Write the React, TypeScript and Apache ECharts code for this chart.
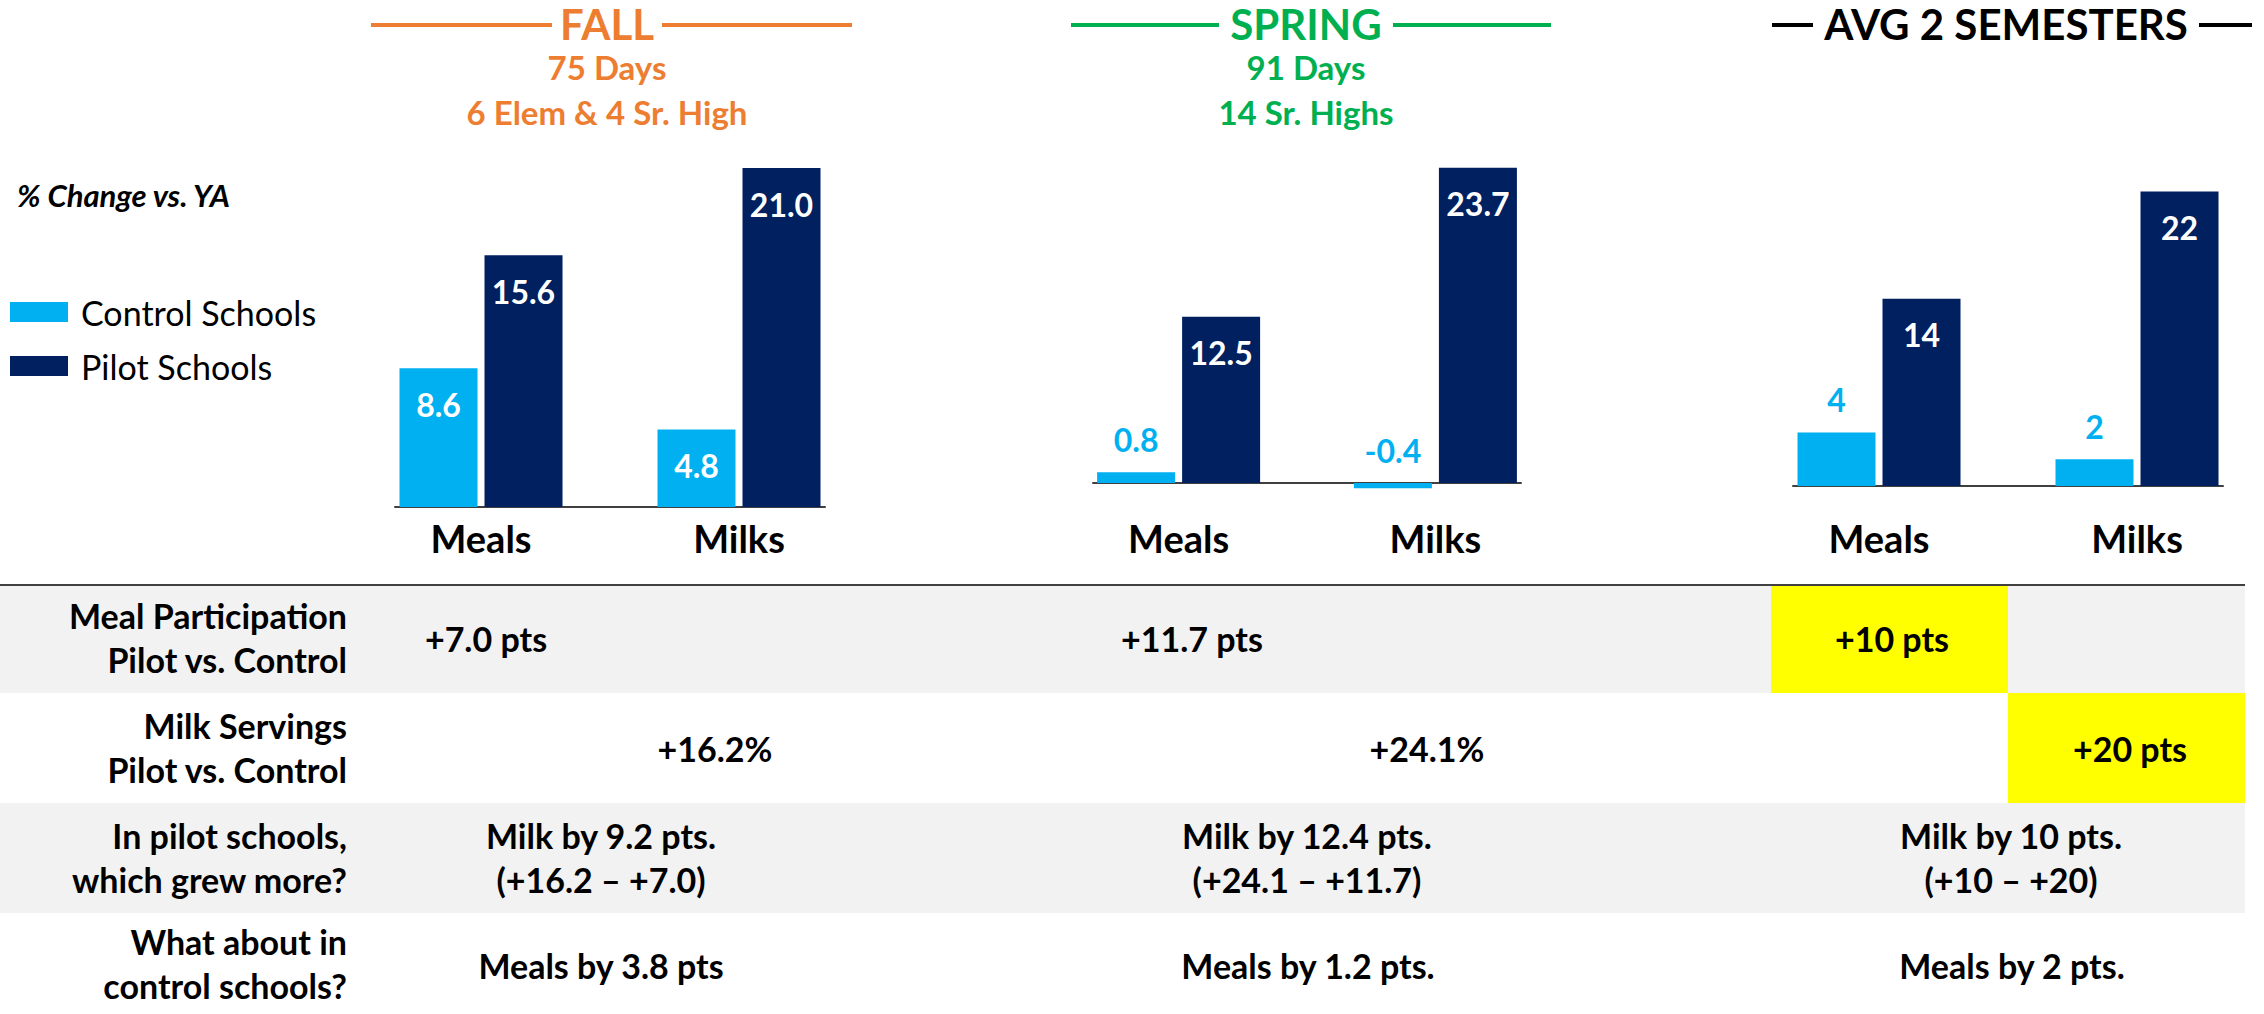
import React, { useEffect, useRef } from 'react';
import * as echarts from 'echarts';

const FONT = 'Lato';

// ---- data ----
const categories = ['Meals', 'Milks'];
const seriesNames = ['Control Schools', 'Pilot Schools'];
const fallControl = [8.6, 4.8];
const fallPilot = [15.6, 21.0];
const springControl = [0.8, -0.4];
const springPilot = [12.5, 23.7];
const avgControl = [4, 2];
const avgPilot = [14, 22];

const headerTitles = ['FALL', 'SPRING', 'AVG 2 SEMESTERS'];
const headerSub1 = ['75 Days', '91 Days', ''];
const headerSub2 = ['6 Elem & 4 Sr. High', '14 Sr. Highs', ''];

const rowLabels = [
  'Meal Participation\nPilot vs. Control',
  'Milk Servings\nPilot vs. Control',
  'In pilot schools,\nwhich grew more?',
  'What about in\ncontrol schools?',
];
const fallTable = ['+7.0 pts', '+16.2%', 'Milk by 9.2 pts.\n(+16.2 – +7.0)', 'Meals by 3.8 pts'];
const springTable = ['+11.7 pts', '+24.1%', 'Milk by 12.4 pts.\n(+24.1 – +11.7)', 'Meals by 1.2 pts.'];
const avgTable = ['+10 pts', '+20 pts', 'Milk by 10 pts.\n(+10 – +20)', 'Meals by 2 pts.'];

// ---- layout ----
const CONTROL_COLOR = '#00B0F0';
const PILOT_COLOR = '#002060';

const panels = [
  {
    control: fallControl, pilot: fallPilot, decimals: 1, controlInside: true,
    left: 395, width: 430, top: 168, height: 339, yMin: 0, yMax: 21, labelMargin: 12,
    color: '#ED7D31', cx: 607, lineL: [371, 552], lineR: [662, 852],
    table: fallTable, tableX: [486, 715, 601, 601],
  },
  {
    control: springControl, pilot: springPilot, decimals: 1, controlInside: false,
    left: 1093, width: 428, top: 163.8, height: 345.8, yMin: -2, yMax: 24, labelMargin: 9.5,
    color: '#00B050', cx: 1306, lineL: [1071, 1219], lineR: [1393, 1551],
    table: springTable, tableX: [1192, 1427, 1307, 1308],
  },
  {
    control: avgControl, pilot: avgPilot, decimals: 0, controlInside: false,
    left: 1793, width: 430, top: 191.6, height: 294.4, yMin: 0, yMax: 22, labelMargin: 33,
    color: '#000000', cx: 2006, lineL: [1772, 1813], lineR: [2199, 2252],
    table: avgTable, tableX: [1892, 2130, 2011, 2012],
  },
];

const labelRowY = [637, 747, 857, 963];
const valueRowY = [638, 748, 857, 965];

function buildOption() {
  const grid: any[] = [];
  const xAxis: any[] = [];
  const yAxis: any[] = [];
  const series: any[] = [];
  const graphic: any[] = [];

  panels.forEach((p, i) => {
    grid.push({ left: p.left, width: p.width, top: p.top, height: p.height, containLabel: false });
    xAxis.push({
      type: 'value',
      gridIndex: i,
      min: -1 / 3,
      max: 4 / 3,
      axisLine: { show: true, onZero: true, lineStyle: { color: '#404040', width: 2 } },
      axisTick: { show: false },
      splitLine: { show: false },
      axisLabel: {
        customValues: [0, 1],
        margin: p.labelMargin,
        color: '#000',
        fontSize: 38,
        fontWeight: 'bold',
        fontFamily: FONT,
        formatter: (v: number) => {
          const r = Math.round(v);
          if (Math.abs(v - r) > 1e-6) return '';
          return categories[r] ?? '';
        },
      },
    });
    yAxis.push({ type: 'value', gridIndex: i, min: p.yMin, max: p.yMax, show: false });

    const mk = (name: string, vals: number[], color: string, inside: boolean) => ({
      type: 'bar',
      name,
      xAxisIndex: i,
      yAxisIndex: i,
      data: vals.map((v, k) => [k, v]),
      barWidth: 78,
      barGap: '9%',
      itemStyle: { color },
      label: {
        show: true,
        position: inside ? 'insideTop' : 'top',
        distance: inside ? 20 : 17,
        color: inside ? '#FFFFFF' : CONTROL_COLOR,
        fontSize: 32,
        fontWeight: 'bold',
        fontFamily: FONT,
        formatter: (prm: any) => Number(prm.value[1]).toFixed(p.decimals),
      },
    });
    series.push(mk(seriesNames[0], p.control, CONTROL_COLOR, p.controlInside));
    series.push(mk(seriesNames[1], p.pilot, PILOT_COLOR, true));

    // headers
    graphic.push({ type: 'line', shape: { x1: p.lineL[0], y1: 25, x2: p.lineL[1], y2: 25 }, style: { stroke: p.color, lineWidth: 4 } });
    graphic.push({ type: 'line', shape: { x1: p.lineR[0], y1: 25, x2: p.lineR[1], y2: 25 }, style: { stroke: p.color, lineWidth: 4 } });
    graphic.push({
      type: 'text', x: p.cx, y: 24,
      style: { text: headerTitles[i], fill: p.color, fontSize: 42, fontWeight: 'bold', fontFamily: FONT, align: 'center', verticalAlign: 'middle' },
    });
    if (headerSub1[i]) {
      graphic.push({
        type: 'text', x: p.cx, y: 67,
        style: { text: headerSub1[i], fill: p.color, fontSize: 33, fontWeight: 'bold', fontFamily: FONT, align: 'center', verticalAlign: 'middle' },
      });
      graphic.push({
        type: 'text', x: p.cx, y: 112,
        style: { text: headerSub2[i], fill: p.color, fontSize: 33, fontWeight: 'bold', fontFamily: FONT, align: 'center', verticalAlign: 'middle' },
      });
    }
  });

  // table background
  const tableBg: any[] = [
    { type: 'rect', shape: { x: 0, y: 585, width: 2245, height: 108 }, style: { fill: '#F2F2F2' } },
    { type: 'rect', shape: { x: 0, y: 803, width: 2245, height: 110 }, style: { fill: '#F2F2F2' } },
    { type: 'rect', shape: { x: 1771, y: 585, width: 237, height: 108 }, style: { fill: '#FFFF00' } },
    { type: 'rect', shape: { x: 2008, y: 693, width: 237, height: 110 }, style: { fill: '#FFFF00' } },
    { type: 'line', shape: { x1: 0, y1: 585, x2: 2245, y2: 585 }, style: { stroke: '#404040', lineWidth: 2 } },
  ];
  const tableText: any[] = [];
  rowLabels.forEach((t, r) => {
    tableText.push({
      type: 'text', x: 347, y: labelRowY[r],
      style: { text: t, fill: '#000', fontSize: 34, fontWeight: 'bold', fontFamily: FONT, align: 'right', verticalAlign: 'middle', lineHeight: 44 },
    });
  });
  panels.forEach((p) => {
    p.table.forEach((t, r) => {
      tableText.push({
        type: 'text', x: p.tableX[r], y: valueRowY[r],
        style: { text: t, fill: '#000', fontSize: 34, fontWeight: 'bold', fontFamily: FONT, align: 'center', verticalAlign: 'middle', lineHeight: 44 },
      });
    });
  });

  const note = {
    type: 'text', x: 17, y: 195,
    style: { text: '% Change vs. YA', fill: '#000', fontSize: 31, fontWeight: 'bold', fontStyle: 'italic', fontFamily: FONT, align: 'left', verticalAlign: 'middle' },
  };

  return {
    animation: false,
    textStyle: { fontFamily: FONT },
    legend: {
      data: seriesNames,
      orient: 'vertical',
      left: 10,
      top: 295,
      padding: 0,
      itemWidth: 58,
      itemHeight: 20,
      itemGap: 20,
      icon: 'rect',
      selectedMode: false,
      textStyle: { fontSize: 34, color: '#000', fontFamily: FONT, padding: [0, 0, 0, 8] },
    },
    grid,
    xAxis,
    yAxis,
    series,
    graphic: [...tableBg, ...tableText, ...graphic, note],
  };
}

export default function App() {
  const ref = useRef<HTMLDivElement>(null);
  useEffect(() => {
    if (!ref.current) return;
    const chart = echarts.init(ref.current, undefined, { renderer: 'svg' });
    chart.setOption(buildOption() as any);
    return () => chart.dispose();
  }, []);
  return (
    <div
      ref={ref}
      style={{ position: 'fixed', left: 0, top: 0, width: 2264, height: 1014, background: '#fff' }}
    />
  );
}
